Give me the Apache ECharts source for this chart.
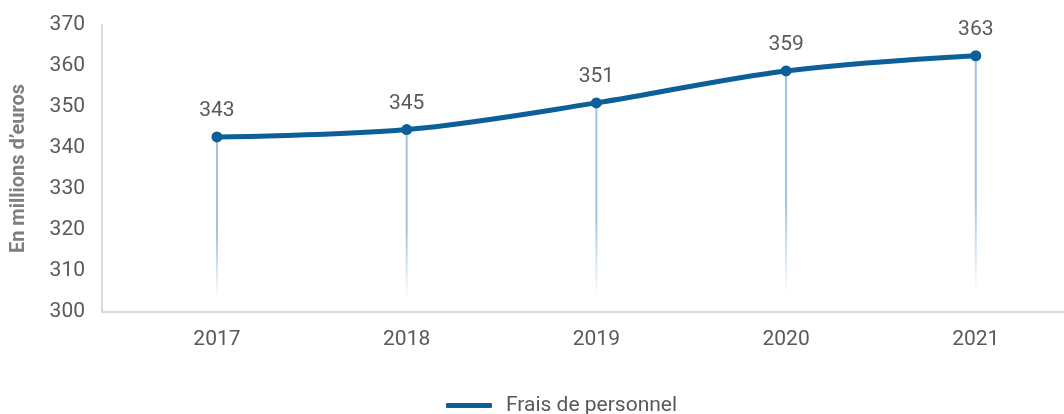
<!DOCTYPE html>
<html>
<head>
<meta charset="utf-8">
<script src="https://cdn.jsdelivr.net/npm/echarts@6/dist/echarts.min.js"></script>
<style>html,body{margin:0;padding:0;background:#fff}#c{width:1064px;height:414px}</style>
</head>
<body>
<div id="c"></div>
<script>
var years = [2017, 2018, 2019, 2020, 2021];
var values = [342.7, 344.5, 351.0, 358.8, 362.5];
var yTicks = [300, 310, 320, 330, 340, 350, 360, 370];
var seriesName = 'Frais de personnel';

var pts = years.map(function (y, i) { return [y, values[i]]; });
var chart = echarts.init(document.getElementById('c'));
chart.setOption({
  animation: false,
  textStyle: { fontFamily: 'Roboto' },
  grid: { left: 102, right: 0, top: 25, bottom: 102 },
  legend: {
    top: 390, left: 441,
    icon: 'roundRect', itemWidth: 46, itemHeight: 5, itemGap: 10,
    textStyle: { fontSize: 21, color: '#595959', fontFamily: 'Roboto', padding: [0, 0, 0, 9] },
    data: [seriesName]
  },
  xAxis: {
    type: 'value', min: 2016.394, max: 2021.465,
    axisLine: { show: true, lineStyle: { color: '#d9d9d9', width: 2 } },
    axisTick: { show: false },
    splitLine: { show: false },
    axisLabel: { customValues: years, color: '#595959', fontSize: 21, margin: 17, formatter: function (v) { return String(v); } }
  },
  yAxis: {
    type: 'value', min: 300, max: 370, interval: 10,
    name: 'En millions d\u2019euros', nameLocation: 'middle', nameGap: 73, nameRotate: 90,
    nameTextStyle: { fontSize: 20, fontWeight: 'bold', color: '#7f7f7f', fontFamily: 'Roboto' },
    axisLine: { show: true, lineStyle: { color: '#d9d9d9', width: 2 } },
    axisTick: { show: false },
    splitLine: { show: false },
    axisLabel: { color: '#595959', fontSize: 21, margin: 17, customValues: yTicks }
  },
  series: [
    {
      type: 'bar', barWidth: 2, z: 1, silent: true,
      data: pts,
      itemStyle: {
        color: new echarts.graphic.LinearGradient(0, 0, 0, 1, [
          { offset: 0, color: 'rgba(157,195,230,1)' },
          { offset: 0.55, color: 'rgba(157,195,230,1)' },
          { offset: 0.93, color: 'rgba(157,195,230,0)' },
          { offset: 1, color: 'rgba(157,195,230,0)' }
        ])
      }
    },
    {
      name: seriesName, type: 'line', z: 3, smooth: 0.35,
      data: pts,
      symbol: 'circle', symbolSize: 11,
      lineStyle: { color: '#0c5f97', width: 5 },
      itemStyle: { color: '#0c5f97' },
      label: {
        show: true, position: 'top', distance: 10,
        fontSize: 21, color: '#595959',
        formatter: function (p) { return Math.round(p.value[1]); }
      }
    }
  ]
});
</script>
</body>
</html>
